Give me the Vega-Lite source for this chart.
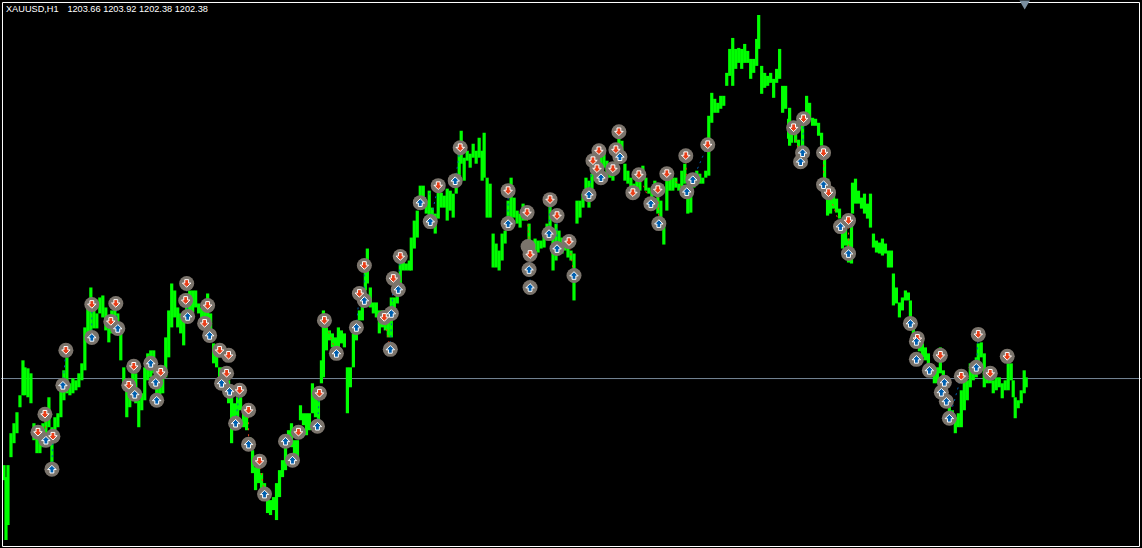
{"$schema":"https://vega.github.io/schema/vega-lite/v6.json","width":1142,"height":548,"padding":0,"autosize":{"type":"fit","contains":"padding"},"background":"#000000","config":{"view":{"stroke":null}},
"datasets":{
"bars":[
{"x":3,"hi":1159,"lo":1151.5},{"x":5,"hi":1153,"lo":1121.5},{"x":7,"hi":1159,"lo":1129},{"x":10,"hi":1175,"lo":1163},{"x":13,"hi":1180,"lo":1170},{"x":16,"hi":1185.5,"lo":1175},{"x":19,"hi":1194,"lo":1188},{"x":22,"hi":1211.5,"lo":1194},{"x":24,"hi":1208,"lo":1194},{"x":27,"hi":1207.5,"lo":1193},{"x":30,"hi":1205,"lo":1190},{"x":33,"hi":1180,"lo":1171.5},{"x":36,"hi":1178,"lo":1165},{"x":39,"hi":1175,"lo":1165},{"x":42,"hi":1180,"lo":1168},{"x":45,"hi":1181.5,"lo":1170},{"x":48,"hi":1193,"lo":1178},{"x":51,"hi":1178,"lo":1158},{"x":54,"hi":1183,"lo":1175},{"x":57,"hi":1185,"lo":1178},{"x":60,"hi":1201.5,"lo":1183},{"x":63,"hi":1206.5,"lo":1191.5},{"x":66,"hi":1213,"lo":1195},{"x":69,"hi":1200,"lo":1194},{"x":72,"hi":1202.5,"lo":1195},{"x":75,"hi":1201.5,"lo":1196.5},{"x":78,"hi":1205,"lo":1198},{"x":81,"hi":1210,"lo":1201.5},{"x":84,"hi":1228,"lo":1206.5},{"x":87,"hi":1238,"lo":1223},{"x":90,"hi":1248,"lo":1225},{"x":93,"hi":1238,"lo":1227.5},{"x":96,"hi":1235,"lo":1227.5},{"x":99,"hi":1243,"lo":1235},{"x":102,"hi":1244,"lo":1233},{"x":105,"hi":1238,"lo":1226.5},{"x":108,"hi":1233,"lo":1220.5},{"x":111,"hi":1236.5,"lo":1225},{"x":114,"hi":1240,"lo":1230},{"x":117,"hi":1235,"lo":1225},{"x":120,"hi":1225,"lo":1211.5},{"x":123,"hi":1208,"lo":1200},{"x":126,"hi":1200,"lo":1183},{"x":129,"hi":1201.5,"lo":1188},{"x":132,"hi":1206.5,"lo":1193},{"x":135,"hi":1205,"lo":1190},{"x":138,"hi":1191.5,"lo":1178},{"x":141,"hi":1195,"lo":1186.5},{"x":144,"hi":1208,"lo":1191.5},{"x":147,"hi":1215,"lo":1201.5},{"x":150,"hi":1216.5,"lo":1203},{"x":153,"hi":1216.5,"lo":1205},{"x":156,"hi":1201.5,"lo":1191.5},{"x":159,"hi":1203,"lo":1190},{"x":162,"hi":1206.5,"lo":1195},{"x":165,"hi":1223,"lo":1203},{"x":168,"hi":1236.5,"lo":1213},{"x":171,"hi":1250,"lo":1228},{"x":174,"hi":1246.5,"lo":1233},{"x":177,"hi":1238,"lo":1228},{"x":180,"hi":1235,"lo":1225},{"x":183,"hi":1233,"lo":1219},{"x":186,"hi":1245,"lo":1235},{"x":189,"hi":1246.5,"lo":1236.5},{"x":192,"hi":1246.5,"lo":1235.5},{"x":195,"hi":1246.5,"lo":1238},{"x":198,"hi":1240,"lo":1235},{"x":201,"hi":1238,"lo":1230},{"x":204,"hi":1241.5,"lo":1231.5},{"x":207,"hi":1245,"lo":1231.5},{"x":210,"hi":1235,"lo":1225},{"x":213,"hi":1220,"lo":1210},{"x":216,"hi":1216.5,"lo":1208},{"x":219,"hi":1208,"lo":1200},{"x":222,"hi":1208,"lo":1198},{"x":225,"hi":1203,"lo":1195},{"x":228,"hi":1201.5,"lo":1190},{"x":231,"hi":1193,"lo":1170},{"x":234,"hi":1190,"lo":1176.5},{"x":237,"hi":1193,"lo":1181.5},{"x":240,"hi":1193,"lo":1186.5},{"x":243,"hi":1188,"lo":1178},{"x":246,"hi":1185,"lo":1176.5},{"x":249,"hi":1173,"lo":1166.5},{"x":252,"hi":1166.5,"lo":1155},{"x":255,"hi":1158,"lo":1146.5},{"x":258,"hi":1160,"lo":1150},{"x":261,"hi":1155,"lo":1146.5},{"x":264,"hi":1150,"lo":1141.5},{"x":267,"hi":1143,"lo":1135},{"x":270,"hi":1141.5,"lo":1134},{"x":273,"hi":1143,"lo":1136.5},{"x":276,"hi":1150,"lo":1131.5},{"x":279,"hi":1156.5,"lo":1143},{"x":282,"hi":1161.5,"lo":1153},{"x":285,"hi":1168,"lo":1156.5},{"x":288,"hi":1176.5,"lo":1168},{"x":291,"hi":1180,"lo":1168},{"x":294,"hi":1171.5,"lo":1160},{"x":297,"hi":1171.5,"lo":1163},{"x":300,"hi":1189,"lo":1181.5},{"x":303,"hi":1185,"lo":1179},{"x":306,"hi":1185,"lo":1174},{"x":309,"hi":1185,"lo":1176.5},{"x":312,"hi":1200,"lo":1185},{"x":315,"hi":1193,"lo":1183},{"x":318,"hi":1191.5,"lo":1176.5},{"x":321,"hi":1211.5,"lo":1200},{"x":323,"hi":1236.5,"lo":1203},{"x":326,"hi":1228,"lo":1216.5},{"x":329,"hi":1226.5,"lo":1221.5},{"x":332,"hi":1225,"lo":1218},{"x":335,"hi":1223,"lo":1215},{"x":338,"hi":1228,"lo":1218},{"x":341,"hi":1226.5,"lo":1220},{"x":344,"hi":1225,"lo":1218},{"x":347,"hi":1208,"lo":1185},{"x":350,"hi":1208,"lo":1198},{"x":353,"hi":1225,"lo":1208},{"x":356,"hi":1231.5,"lo":1221.5},{"x":359,"hi":1236.5,"lo":1231.5},{"x":362,"hi":1241.5,"lo":1231.5},{"x":365,"hi":1260,"lo":1246.5},{"x":367,"hi":1267.5,"lo":1250},{"x":370,"hi":1248,"lo":1238},{"x":373,"hi":1240.5,"lo":1235},{"x":376,"hi":1240.5,"lo":1233},{"x":379,"hi":1236.5,"lo":1225},{"x":382,"hi":1236.5,"lo":1228},{"x":385,"hi":1233,"lo":1226.5},{"x":388,"hi":1233,"lo":1223},{"x":391,"hi":1243,"lo":1223},{"x":394,"hi":1243,"lo":1236.5},{"x":397,"hi":1251.5,"lo":1240},{"x":400,"hi":1261.5,"lo":1248},{"x":403,"hi":1265,"lo":1256.5},{"x":406,"hi":1260,"lo":1256.5},{"x":409,"hi":1261.5,"lo":1256.5},{"x":411,"hi":1273,"lo":1256.5},{"x":414,"hi":1281.5,"lo":1267.5},{"x":417,"hi":1286.5,"lo":1273},{"x":420,"hi":1299,"lo":1290},{"x":423,"hi":1299,"lo":1291.5},{"x":426,"hi":1291.5,"lo":1285},{"x":429,"hi":1296.5,"lo":1281.5},{"x":432,"hi":1288,"lo":1278},{"x":435,"hi":1285,"lo":1275},{"x":438,"hi":1295.5,"lo":1282.5},{"x":441,"hi":1295.5,"lo":1288},{"x":444,"hi":1294,"lo":1288},{"x":447,"hi":1297.5,"lo":1281.5},{"x":450,"hi":1296.5,"lo":1286.5},{"x":453,"hi":1295,"lo":1283},{"x":456,"hi":1305,"lo":1295},{"x":459,"hi":1315,"lo":1301.5},{"x":461,"hi":1326.5,"lo":1310},{"x":464,"hi":1313,"lo":1301.5},{"x":467,"hi":1316.5,"lo":1311.5},{"x":470,"hi":1315,"lo":1308},{"x":473,"hi":1320,"lo":1313},{"x":476,"hi":1316.5,"lo":1310},{"x":479,"hi":1323,"lo":1313},{"x":482,"hi":1316.5,"lo":1301.5},{"x":484,"hi":1325.5,"lo":1303},{"x":487,"hi":1303,"lo":1283},{"x":490,"hi":1300,"lo":1283},{"x":493,"hi":1275,"lo":1258},{"x":496,"hi":1270,"lo":1258},{"x":499,"hi":1266.5,"lo":1256.5},{"x":502,"hi":1275,"lo":1261.5},{"x":505,"hi":1276.5,"lo":1270},{"x":508,"hi":1291.5,"lo":1276.5},{"x":511,"hi":1303,"lo":1281.5},{"x":514,"hi":1293,"lo":1283},{"x":517,"hi":1286.5,"lo":1280},{"x":520,"hi":1285,"lo":1278},{"x":523,"hi":1290,"lo":1281.5},{"x":526,"hi":1286.5,"lo":1281.5},{"x":529,"hi":1280,"lo":1270},{"x":532,"hi":1271.5,"lo":1266.5},{"x":535,"hi":1272.5,"lo":1266.5},{"x":538,"hi":1271.5,"lo":1265.5},{"x":541,"hi":1271.5,"lo":1267.5},{"x":544,"hi":1275,"lo":1268},{"x":547,"hi":1280,"lo":1273},{"x":550,"hi":1291.5,"lo":1278},{"x":553,"hi":1273,"lo":1256.5},{"x":556,"hi":1280,"lo":1261.5},{"x":559,"hi":1276.5,"lo":1266.5},{"x":562,"hi":1273,"lo":1265},{"x":565,"hi":1271.5,"lo":1266.5},{"x":568,"hi":1270,"lo":1263},{"x":571,"hi":1266.5,"lo":1261.5},{"x":574,"hi":1265,"lo":1241.5},{"x":577,"hi":1291.5,"lo":1280},{"x":580,"hi":1291.5,"lo":1283},{"x":583,"hi":1295,"lo":1288},{"x":586,"hi":1303,"lo":1293},{"x":589,"hi":1301.5,"lo":1288},{"x":592,"hi":1305,"lo":1296.5},{"x":595,"hi":1311.5,"lo":1301.5},{"x":598,"hi":1313,"lo":1306.5},{"x":601,"hi":1315,"lo":1303},{"x":604,"hi":1315,"lo":1308},{"x":607,"hi":1311.5,"lo":1303},{"x":610,"hi":1310,"lo":1303},{"x":613,"hi":1310,"lo":1301.5},{"x":616,"hi":1315,"lo":1308},{"x":619,"hi":1323,"lo":1313},{"x":622,"hi":1321.5,"lo":1311.5},{"x":625,"hi":1310,"lo":1301.5},{"x":628,"hi":1306.5,"lo":1300},{"x":631,"hi":1303,"lo":1298},{"x":634,"hi":1300,"lo":1293},{"x":637,"hi":1301.5,"lo":1298},{"x":640,"hi":1305,"lo":1296.5},{"x":643,"hi":1309,"lo":1302.5},{"x":646,"hi":1303,"lo":1296.5},{"x":649,"hi":1298,"lo":1295},{"x":652,"hi":1296.5,"lo":1291.5},{"x":655,"hi":1301.5,"lo":1296.5},{"x":658,"hi":1295,"lo":1285},{"x":661,"hi":1291.5,"lo":1283},{"x":664,"hi":1281.5,"lo":1269.5},{"x":667,"hi":1301.5,"lo":1286.5},{"x":670,"hi":1303,"lo":1296.5},{"x":673,"hi":1303,"lo":1296.5},{"x":676,"hi":1303,"lo":1298},{"x":679,"hi":1300,"lo":1296.5},{"x":682,"hi":1306.5,"lo":1296.5},{"x":685,"hi":1310,"lo":1300},{"x":688,"hi":1293,"lo":1285},{"x":691,"hi":1295,"lo":1285.5},{"x":694,"hi":1303,"lo":1298},{"x":697,"hi":1306.5,"lo":1300},{"x":700,"hi":1305,"lo":1300},{"x":703,"hi":1303,"lo":1300},{"x":706,"hi":1306.5,"lo":1303},{"x":709,"hi":1334,"lo":1304},{"x":712,"hi":1345.5,"lo":1330.5},{"x":715,"hi":1342.5,"lo":1335.5},{"x":718,"hi":1340.5,"lo":1335.5},{"x":721,"hi":1344,"lo":1337.5},{"x":724,"hi":1344,"lo":1339},{"x":727,"hi":1355.5,"lo":1349},{"x":730,"hi":1367.5,"lo":1354},{"x":733,"hi":1373,"lo":1349},{"x":736,"hi":1367.5,"lo":1357.5},{"x":739,"hi":1368,"lo":1360.5},{"x":742,"hi":1367.5,"lo":1357.5},{"x":745,"hi":1370,"lo":1360.5},{"x":748,"hi":1366.5,"lo":1360.5},{"x":751,"hi":1362.5,"lo":1352.5},{"x":754,"hi":1362.5,"lo":1355.5},{"x":757,"hi":1372.5,"lo":1359},{"x":759,"hi":1384.5,"lo":1367.5},{"x":762,"hi":1359,"lo":1345},{"x":765,"hi":1355.5,"lo":1348},{"x":768,"hi":1354,"lo":1349},{"x":771,"hi":1355.5,"lo":1350.5},{"x":774,"hi":1352.5,"lo":1343},{"x":777,"hi":1357.5,"lo":1350.5},{"x":780,"hi":1367.5,"lo":1352.5},{"x":783,"hi":1349,"lo":1335.5},{"x":786,"hi":1349,"lo":1337.5},{"x":789,"hi":1332.5,"lo":1322.5},{"x":790,"hi":1338,"lo":1319},{"x":792,"hi":1330.5,"lo":1320.5},{"x":796,"hi":1325.5,"lo":1320.5},{"x":799,"hi":1322,"lo":1316},{"x":803,"hi":1332,"lo":1312},{"x":807,"hi":1344,"lo":1335.5},{"x":810,"hi":1340.5,"lo":1332.5},{"x":813,"hi":1333,"lo":1329},{"x":816,"hi":1332.5,"lo":1329},{"x":819,"hi":1330.5,"lo":1324},{"x":822,"hi":1325.5,"lo":1319},{"x":825,"hi":1312.5,"lo":1300.5},{"x":828,"hi":1302.5,"lo":1284},{"x":831,"hi":1292.5,"lo":1285},{"x":834,"hi":1294,"lo":1287.5},{"x":837,"hi":1292.5,"lo":1285.5},{"x":840,"hi":1287.5,"lo":1282.5},{"x":843,"hi":1277.5,"lo":1267.5},{"x":846,"hi":1279,"lo":1269},{"x":849,"hi":1272.5,"lo":1260.5},{"x":852,"hi":1282.5,"lo":1260},{"x":853,"hi":1300.5,"lo":1285},{"x":856,"hi":1302.5,"lo":1290},{"x":859,"hi":1296.5,"lo":1290},{"x":862,"hi":1293,"lo":1287.5},{"x":865,"hi":1295,"lo":1285},{"x":868,"hi":1290,"lo":1282.5},{"x":871,"hi":1295,"lo":1278},{"x":874,"hi":1275,"lo":1268},{"x":877,"hi":1271.5,"lo":1265.5},{"x":880,"hi":1270.5,"lo":1265},{"x":883,"hi":1272.5,"lo":1264},{"x":886,"hi":1270,"lo":1265},{"x":889,"hi":1266.5,"lo":1258},{"x":892,"hi":1266.5,"lo":1258},{"x":894,"hi":1255,"lo":1239},{"x":897,"hi":1248,"lo":1240},{"x":900,"hi":1240.5,"lo":1233},{"x":903,"hi":1243,"lo":1236.5},{"x":906,"hi":1246.5,"lo":1241.5},{"x":909,"hi":1245.5,"lo":1241.5},{"x":911,"hi":1241.5,"lo":1230},{"x":914,"hi":1230,"lo":1222},{"x":917,"hi":1225,"lo":1218},{"x":920,"hi":1224,"lo":1216},{"x":923,"hi":1220,"lo":1213},{"x":926,"hi":1218,"lo":1211.5},{"x":929,"hi":1215,"lo":1208},{"x":932,"hi":1208,"lo":1203},{"x":935,"hi":1206.5,"lo":1200},{"x":938,"hi":1208,"lo":1200},{"x":941,"hi":1218,"lo":1205},{"x":944,"hi":1206.5,"lo":1200},{"x":947,"hi":1196.5,"lo":1190},{"x":950,"hi":1190,"lo":1183},{"x":953,"hi":1186.5,"lo":1180},{"x":956,"hi":1183,"lo":1175},{"x":959,"hi":1185,"lo":1178},{"x":962,"hi":1196.5,"lo":1178},{"x":965,"hi":1201.5,"lo":1186.5},{"x":968,"hi":1201.5,"lo":1191.5},{"x":971,"hi":1210,"lo":1198},{"x":974,"hi":1206.5,"lo":1201.5},{"x":977,"hi":1213,"lo":1203},{"x":979,"hi":1220,"lo":1210},{"x":982,"hi":1220.5,"lo":1213},{"x":985,"hi":1215,"lo":1198},{"x":988,"hi":1206.5,"lo":1200},{"x":991,"hi":1205,"lo":1200},{"x":994,"hi":1201.5,"lo":1195},{"x":997,"hi":1203,"lo":1196.5},{"x":1000,"hi":1203,"lo":1198},{"x":1003,"hi":1200,"lo":1192.5},{"x":1006,"hi":1201.5,"lo":1196.5},{"x":1009,"hi":1210,"lo":1196.5},{"x":1012,"hi":1210,"lo":1201.5},{"x":1014,"hi":1201.5,"lo":1193},{"x":1016,"hi":1193,"lo":1182.5},{"x":1019,"hi":1191.5,"lo":1187.5},{"x":1022,"hi":1196.5,"lo":1190},{"x":1025,"hi":1206.5,"lo":1195},{"x":1027,"hi":1203,"lo":1198}
],
"orders":[
{"x":528,"p":1268.5,"side":"open"},
{"x":65,"p":1216.5,"side":"sell"},{"x":44,"p":1184.5,"side":"sell"},{"x":37,"p":1175.5,"side":"sell"},{"x":52,"p":1173.5,"side":"sell"},{"x":91,"p":1239.5,"side":"sell"},{"x":115,"p":1240,"side":"sell"},{"x":110,"p":1231,"side":"sell"},{"x":133,"p":1208.5,"side":"sell"},{"x":128,"p":1199,"side":"sell"},{"x":186,"p":1250,"side":"sell"},{"x":185,"p":1241.5,"side":"sell"},{"x":207,"p":1239,"side":"sell"},{"x":204,"p":1230,"side":"sell"},{"x":219,"p":1216.5,"side":"sell"},{"x":228,"p":1214,"side":"sell"},{"x":226,"p":1205,"side":"sell"},{"x":239,"p":1196.5,"side":"sell"},{"x":248,"p":1186.5,"side":"sell"},{"x":259,"p":1161,"side":"sell"},{"x":160,"p":1205.5,"side":"sell"},{"x":298,"p":1175.5,"side":"sell"},{"x":324,"p":1231.5,"side":"sell"},{"x":319,"p":1195,"side":"sell"},{"x":364,"p":1259,"side":"sell"},{"x":359,"p":1245,"side":"sell"},{"x":393,"p":1252.5,"side":"sell"},{"x":400,"p":1263.5,"side":"sell"},{"x":384,"p":1233,"side":"sell"},{"x":438,"p":1299,"side":"sell"},{"x":460,"p":1318,"side":"sell"},{"x":508,"p":1296.5,"side":"sell"},{"x":527,"p":1285.5,"side":"sell"},{"x":550,"p":1292,"side":"sell"},{"x":557,"p":1284,"side":"sell"},{"x":530,"p":1264.5,"side":"sell"},{"x":569,"p":1271,"side":"sell"},{"x":619,"p":1326,"side":"sell"},{"x":599,"p":1316.5,"side":"sell"},{"x":593,"p":1311.5,"side":"sell"},{"x":597,"p":1307.5,"side":"sell"},{"x":616,"p":1317,"side":"sell"},{"x":613,"p":1307.5,"side":"sell"},{"x":639,"p":1304.5,"side":"sell"},{"x":633,"p":1295.5,"side":"sell"},{"x":667,"p":1305,"side":"sell"},{"x":658,"p":1297,"side":"sell"},{"x":686,"p":1314,"side":"sell"},{"x":708,"p":1319.5,"side":"sell"},{"x":804,"p":1332.5,"side":"sell"},{"x":794,"p":1328,"side":"sell"},{"x":824,"p":1315.5,"side":"sell"},{"x":829,"p":1295.5,"side":"sell"},{"x":849,"p":1281.5,"side":"sell"},{"x":918,"p":1222.5,"side":"sell"},{"x":941,"p":1214,"side":"sell"},{"x":962,"p":1203.5,"side":"sell"},{"x":979,"p":1224.5,"side":"sell"},{"x":991,"p":1205,"side":"sell"},{"x":1008,"p":1213.5,"side":"sell"},
{"x":51,"p":1157,"side":"buy"},{"x":45,"p":1171.5,"side":"buy"},{"x":62,"p":1199,"side":"buy"},{"x":91,"p":1223,"side":"buy"},{"x":117,"p":1227.5,"side":"buy"},{"x":134,"p":1194.5,"side":"buy"},{"x":150,"p":1210,"side":"buy"},{"x":155,"p":1200.5,"side":"buy"},{"x":156,"p":1191.5,"side":"buy"},{"x":187,"p":1233.5,"side":"buy"},{"x":209,"p":1224,"side":"buy"},{"x":221,"p":1200,"side":"buy"},{"x":229,"p":1196,"side":"buy"},{"x":235,"p":1180,"side":"buy"},{"x":248,"p":1169.5,"side":"buy"},{"x":264,"p":1144.5,"side":"buy"},{"x":285,"p":1171,"side":"buy"},{"x":292,"p":1161.5,"side":"buy"},{"x":336,"p":1215,"side":"buy"},{"x":356,"p":1228,"side":"buy"},{"x":364,"p":1241.5,"side":"buy"},{"x":398,"p":1247,"side":"buy"},{"x":391,"p":1235,"side":"buy"},{"x":390,"p":1217,"side":"buy"},{"x":420,"p":1290.5,"side":"buy"},{"x":430,"p":1281,"side":"buy"},{"x":455,"p":1301.5,"side":"buy"},{"x":317,"p":1178.5,"side":"buy"},{"x":508,"p":1280,"side":"buy"},{"x":529,"p":1257,"side":"buy"},{"x":530,"p":1248,"side":"buy"},{"x":549,"p":1275,"side":"buy"},{"x":557,"p":1267.5,"side":"buy"},{"x":574,"p":1254,"side":"buy"},{"x":589,"p":1294.5,"side":"buy"},{"x":601,"p":1303,"side":"buy"},{"x":620,"p":1313.5,"side":"buy"},{"x":651,"p":1290,"side":"buy"},{"x":659,"p":1280,"side":"buy"},{"x":687,"p":1296,"side":"buy"},{"x":693,"p":1302,"side":"buy"},{"x":803,"p":1315.5,"side":"buy"},{"x":801,"p":1311,"side":"buy"},{"x":824,"p":1299.5,"side":"buy"},{"x":841,"p":1278.5,"side":"buy"},{"x":849,"p":1265,"side":"buy"},{"x":911,"p":1230,"side":"buy"},{"x":917,"p":1221,"side":"buy"},{"x":917,"p":1212,"side":"buy"},{"x":930,"p":1206.5,"side":"buy"},{"x":945,"p":1200.5,"side":"buy"},{"x":942,"p":1195.5,"side":"buy"},{"x":947,"p":1191,"side":"buy"},{"x":950,"p":1182.5,"side":"buy"},{"x":977,"p":1208,"side":"buy"}
],
"trades":[
{"t":1,"k":"sell","x":527,"p":1285.5},{"t":1,"k":"sell","x":530,"p":1264.5},{"t":2,"k":"sell","x":569,"p":1271},{"t":2,"k":"sell","x":574,"p":1254},{"t":3,"k":"sell","x":324,"p":1231.5},{"t":3,"k":"sell","x":336,"p":1215},{"t":4,"k":"sell","x":384,"p":1233},{"t":4,"k":"sell","x":390,"p":1217},{"t":5,"k":"sell","x":639,"p":1304.5},{"t":5,"k":"sell","x":651,"p":1290},{"t":6,"k":"sell","x":658,"p":1297},{"t":6,"k":"sell","x":659,"p":1280},{"t":7,"k":"sell","x":667,"p":1305},{"t":7,"k":"sell","x":687,"p":1296},{"t":8,"k":"sell","x":686,"p":1314},{"t":8,"k":"sell","x":687,"p":1296},{"t":9,"k":"sell","x":794,"p":1328},{"t":9,"k":"sell","x":801,"p":1311},{"t":10,"k":"sell","x":824,"p":1315.5},{"t":10,"k":"sell","x":824,"p":1299.5},{"t":11,"k":"sell","x":829,"p":1295.5},{"t":11,"k":"sell","x":841,"p":1278.5},{"t":12,"k":"sell","x":849,"p":1281.5},{"t":12,"k":"sell","x":849,"p":1265},{"t":13,"k":"sell","x":44,"p":1184.5},{"t":13,"k":"sell","x":45,"p":1171.5},{"t":14,"k":"sell","x":259,"p":1161},{"t":14,"k":"sell","x":264,"p":1144.5},{"t":15,"k":"sell","x":248,"p":1186.5},{"t":15,"k":"sell","x":248,"p":1169.5},{"t":16,"k":"sell","x":941,"p":1214},{"t":16,"k":"sell","x":930,"p":1206.5},
{"t":20,"k":"buy","x":51,"p":1157},{"t":20,"k":"buy","x":52,"p":1173.5},{"t":21,"k":"buy","x":62,"p":1199},{"t":21,"k":"buy","x":65,"p":1216.5},{"t":22,"k":"buy","x":91,"p":1223},{"t":22,"k":"buy","x":91,"p":1239.5},{"t":23,"k":"buy","x":117,"p":1227.5},{"t":23,"k":"buy","x":115,"p":1240},{"t":24,"k":"buy","x":187,"p":1233.5},{"t":24,"k":"buy","x":186,"p":1250},{"t":25,"k":"buy","x":508,"p":1280},{"t":25,"k":"buy","x":508,"p":1296.5},{"t":26,"k":"buy","x":530,"p":1248},{"t":26,"k":"buy","x":530,"p":1264.5},{"t":27,"k":"buy","x":549,"p":1275},{"t":27,"k":"buy","x":550,"p":1292},{"t":28,"k":"buy","x":557,"p":1267.5},{"t":28,"k":"buy","x":557,"p":1284},{"t":29,"k":"buy","x":589,"p":1294.5},{"t":29,"k":"buy","x":593,"p":1311.5},{"t":30,"k":"buy","x":693,"p":1302},{"t":30,"k":"buy","x":708,"p":1319.5},{"t":31,"k":"buy","x":803,"p":1315.5},{"t":31,"k":"buy","x":804,"p":1332.5},{"t":32,"k":"buy","x":420,"p":1290.5},{"t":32,"k":"buy","x":438,"p":1299},{"t":33,"k":"buy","x":430,"p":1281},{"t":33,"k":"buy","x":438,"p":1299},{"t":34,"k":"buy","x":455,"p":1301.5},{"t":34,"k":"buy","x":460,"p":1318},{"t":35,"k":"buy","x":356,"p":1228},{"t":35,"k":"buy","x":359,"p":1245},{"t":36,"k":"buy","x":364,"p":1241.5},{"t":36,"k":"buy","x":364,"p":1259},{"t":37,"k":"buy","x":398,"p":1247},{"t":37,"k":"buy","x":400,"p":1263.5},{"t":38,"k":"buy","x":390,"p":1217},{"t":38,"k":"buy","x":393,"p":1252.5},{"t":39,"k":"buy","x":235,"p":1180},{"t":39,"k":"buy","x":239,"p":1196.5},{"t":40,"k":"buy","x":317,"p":1178.5},{"t":40,"k":"buy","x":319,"p":1195},{"t":41,"k":"buy","x":950,"p":1182.5},{"t":41,"k":"buy","x":962,"p":1203.5},{"t":42,"k":"buy","x":977,"p":1208},{"t":42,"k":"buy","x":979,"p":1224.5}
]
},
"layer":[
{"data":{"values":[{"price":1202.38}]},"mark":{"type":"rule","color":"#778899","strokeWidth":1},"encoding":{"y":{"field":"price","type":"quantitative","scale":{"domain":[1117.5,1391.5]},"axis":null}}},
{"data":{"name":"bars"},"mark":{"type":"rule","color":"#00ff00","strokeWidth":3.2},"encoding":{"x":{"field":"x","type":"quantitative","scale":{"domain":[0,1142]},"axis":null},"y":{"field":"lo","type":"quantitative","scale":{"domain":[1117.5,1391.5]},"axis":null},"y2":{"field":"hi"}}},
{"data":{"name":"trades"},"mark":{"type":"line","strokeWidth":1,"strokeDash":[2,4]},"encoding":{"x":{"field":"x","type":"quantitative","scale":{"domain":[0,1142]},"axis":null},"y":{"field":"p","type":"quantitative","scale":{"domain":[1117.5,1391.5]},"axis":null},"detail":{"field":"t"},"color":{"field":"k","type":"nominal","scale":{"domain":["buy","sell"],"range":["#0060b0","#e8401a"]},"legend":null}}},
{"data":{"name":"orders"},"mark":{"type":"point","shape":"circle","filled":true,"opacity":1,"color":"#7b746c","size":225},"encoding":{"x":{"field":"x","type":"quantitative","scale":{"domain":[0,1142]},"axis":null},"y":{"field":"p","type":"quantitative","scale":{"domain":[1117.5,1391.5]},"axis":null}}},
{"data":{"name":"orders"},"transform":[{"filter":"datum.side !== 'open'"}],"mark":{"type":"point","filled":true,"opacity":1,"stroke":"#ffffff","strokeWidth":1,"size":72},"encoding":{"x":{"field":"x","type":"quantitative","scale":{"domain":[0,1142]},"axis":null},"y":{"field":"p","type":"quantitative","scale":{"domain":[1117.5,1391.5]},"axis":null},"shape":{"field":"side","type":"nominal","scale":{"domain":["buy","sell"],"range":["M0,-0.9 L1,0.1 L0.45,0.1 L0.45,0.9 L-0.45,0.9 L-0.45,0.1 L-1,0.1 Z","M-0.45,-0.9 L0.45,-0.9 L0.45,-0.1 L1,-0.1 L0,0.9 L-1,-0.1 L-0.45,-0.1 Z"]},"legend":null},"fill":{"field":"side","type":"nominal","scale":{"domain":["buy","sell"],"range":["#0060b0","#e8401a"]},"legend":null}}},
{"data":{"values":[{"x":1.5,"x2":1140.5,"top":1390.75,"bottom":1118.25}]},"mark":{"type":"rect","fill":null,"stroke":"#ffffff","strokeWidth":1},"encoding":{"x":{"field":"x","type":"quantitative","scale":{"domain":[0,1142]},"axis":null},"x2":{"field":"x2"},"y":{"field":"top","type":"quantitative","scale":{"domain":[1117.5,1391.5]},"axis":null},"y2":{"field":"bottom"}}},
{"data":{"values":[{"x":1025.5,"p":1389.5}]},"mark":{"type":"point","shape":"triangle-down","filled":true,"opacity":1,"color":"#7a8fa0","size":110},"encoding":{"x":{"field":"x","type":"quantitative","scale":{"domain":[0,1142]},"axis":null},"y":{"field":"p","type":"quantitative","scale":{"domain":[1117.5,1391.5]},"axis":null}}},
{"data":{"values":[{"x":5,"p":1387.5,"label":"XAUUSD,H1"},{"x":66.5,"p":1387.5,"label":"1203.66 1203.92 1202.38 1202.38"}]},"mark":{"type":"text","align":"left","baseline":"middle","color":"#ffffff","font":"Liberation Sans","fontSize":9.2},"encoding":{"x":{"field":"x","type":"quantitative","scale":{"domain":[0,1142]},"axis":null},"y":{"field":"p","type":"quantitative","scale":{"domain":[1117.5,1391.5]},"axis":null},"text":{"field":"label"}}}
]}
